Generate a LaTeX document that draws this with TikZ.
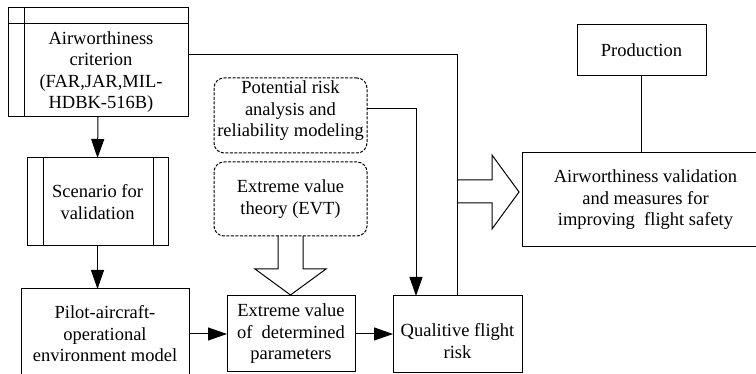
\documentclass[tikz,border=0pt]{standalone}
\usepackage{fontspec}
\setmainfont{Liberation Serif}
\usetikzlibrary{arrows.meta}
\begin{document}
\begin{tikzpicture}[x=1pt,y=-1pt,
  line width=1pt,
  box/.style={draw, rectangle, inner sep=0pt, outer sep=0pt, align=center, font=\fontsize{18.5}{21.5}\selectfont},
  txt/.style={inner sep=0pt, align=center, font=\fontsize{18.5}{21.5}\selectfont},
  dbox/.style={box, dash pattern=on 3pt off 1.5pt, rounded corners=10pt},
  arr/.style={-{Triangle[length=19pt,width=13pt]}},
  hollow/.style={draw, line join=miter}]
\clip (0,0) rectangle (756,374);
% boxes
\node[box, minimum width=180pt, minimum height=109pt] (crit) at (98,62.5) {};
\node[txt] (crittext) at (101,72) {Airworthiness\\criterion\\(FAR,JAR,MIL-\\HDBK-516B)};
\draw ([yshift=-16pt]crit.north west) -- ([yshift=-16pt]crit.north east);
\draw ([xshift=16pt]crit.north west) -- ([xshift=16pt]crit.south west);

\node[box, minimum width=141pt, minimum height=88pt] (scen) at (97.5,202) {Scenario for\\validation};
\draw ([xshift=16pt]scen.north west) -- ([xshift=16pt]scen.south west);
\draw ([xshift=-15pt]scen.north east) -- ([xshift=-15pt]scen.south east);

\node[box, minimum width=168pt, minimum height=90pt] (pilot) at (105,334) {Pilot-aircraft-\\operational\\environment model};
\node[box, minimum width=128pt, minimum height=76pt] (ext) at (291,334) {Extreme value\\of \ determined\\parameters};
\node[box, minimum width=129pt, minimum height=77pt] (qual) at (457.5,334.5) {};
\node[txt] (qualtext) at (457.5,341) {Qualitive flight\\risk};

\node[dbox, minimum width=153pt, minimum height=75pt] (pot) at (290.5,115.5) {};
\node[txt] (pottext) at (290.5,111) {Potential risk\\analysis and\\reliability modeling};
\node[dbox, minimum width=153pt, minimum height=74pt] (evt) at (290.5,199) {Extreme value\\theory (EVT)};

\node[box, minimum width=247pt, minimum height=94pt] (val) at (645.5,200) {Airworthiness validation\\and measures for\\improving \ flight safety};
\node[box, minimum width=129pt, minimum height=51pt] (prod) at (641.5,50.5) {Production};

% connectors
\draw[arr] (crit.south) -- (scen.north);
\draw[arr] (scen.south) -- (scen.south |- pilot.north);
\draw[arr] (pilot.east) -- (ext.west);
\draw[arr] (ext.east) -- (ext.east -| qual.west);
\draw[arr] ([yshift=6.5pt]pot.east) -| ([xshift=-41.5pt]qual.north);
\draw ([yshift=7.5pt]crit.east) -| (qual.north);
\draw (prod.south) -- (prod.south |- val.north);

% hollow arrows
\draw[hollow] (458,180) -- (492,180) -- (492,155) -- (519,192) -- (492,229) -- (492,203) -- (458,203);
\draw[hollow] (278,236) -- (278,269) -- (255,269) -- (290.5,295) -- (326,269) -- (303,269) -- (303,236);
\end{tikzpicture}
\end{document}
